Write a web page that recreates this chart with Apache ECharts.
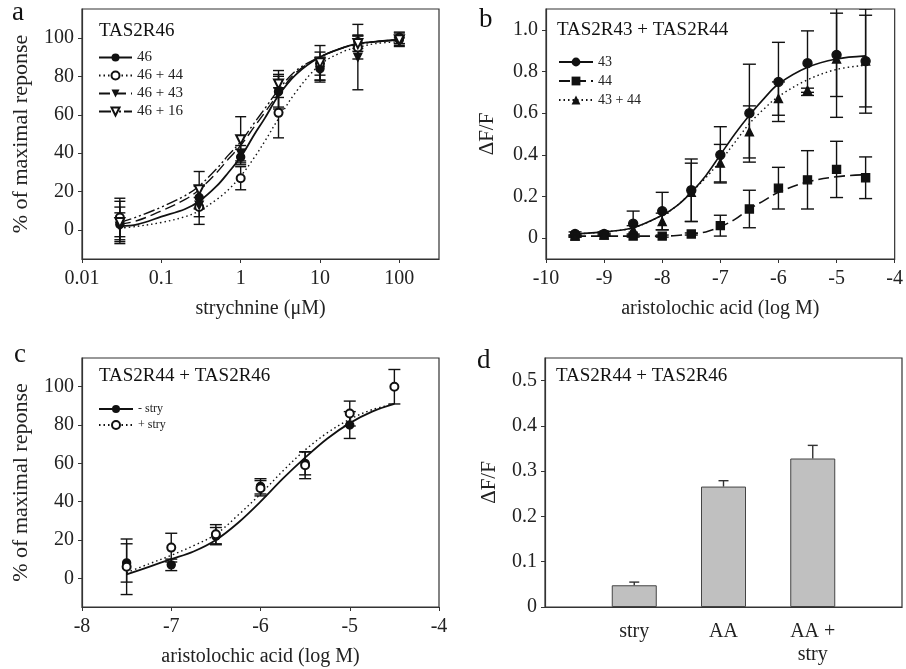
<!DOCTYPE html>
<html>
<head>
<meta charset="utf-8">
<script src="https://cdn.jsdelivr.net/npm/echarts@6/dist/echarts.min.js"></script>
<style>
html,body{margin:0;padding:0;background:#fff;}
#chart{width:906px;height:669px;}
</style>
</head>
<body>
<div id="chart"></div>
<script>
// ---------- Panel a: TAS2R46, strychnine (µM) ----------
const aConc = [0.03, 0.3, 1, 3, 10, 30, 100];
const a46 = [3, 17, 38, 72, 84, 98, 99];
const a46Err = [9, 6, 4, 8, 6, 3.5, 3.5];
const a46p44 = [6.6, 12, 27, 61, 86.6, 95, 100];
const a46p44Err = [10, 5, 6, 13, 6, 6, 3];
const a46p43 = [2, 13, 40, 72, 83, 90, 98];
const a46p43Err = [7, 10, 4, 9, 6, 17, 2];
const a46p16 = [4, 21, 47, 76, 87, 97, 99];
const a46p16Err = [11, 9.5, 12, 7, 9, 4, 2];
// fitted curves
const aCurveX = [0.03, 0.05, 0.1, 0.2, 0.3, 0.5, 0.7, 1, 1.5, 2, 3, 5, 10, 20, 30, 50, 100];
const aCurve46 = [2, 3, 7, 11, 15, 23, 30, 38, 50, 58, 70, 81, 90, 95, 97, 98, 99];
const aCurve46p44 = [1, 2, 4, 7, 10, 16, 21, 28, 38, 46, 58, 72, 86, 93, 95, 97, 98];
const aCurve46p43 = [3, 5, 10, 16, 21, 30, 37, 44, 54, 61, 71, 82, 90, 95, 97, 98, 99];
const aCurve46p16 = [4, 7, 12, 18, 23, 32, 39, 46, 56, 63, 73, 83, 90, 95, 96.5, 98, 99];
const aXTicks = [0.01, 0.1, 1, 10, 100];
const pctTicks = [0, 20, 40, 60, 80, 100];

// ---------- Panel b: TAS2R43 + TAS2R44, aristolochic acid (log M) ----------
const bLogM = [-9.5, -9, -8.5, -8, -7.5, -7, -6.5, -6, -5.5, -5, -4.5];
const b43 = [0.02, 0.02, 0.07, 0.13, 0.23, 0.40, 0.60, 0.75, 0.84, 0.88, 0.85];
const b43Err = [0.01, 0.01, 0.06, 0.09, 0.15, 0.135, 0.235, 0.19, 0.155, 0.2, 0.25];
const b44 = [0.01, 0.015, 0.01, 0.01, 0.02, 0.06, 0.14, 0.24, 0.28, 0.33, 0.29];
const b44Err = [0.005, 0.005, 0.005, 0.005, 0.005, 0.05, 0.09, 0.10, 0.14, 0.135, 0.10];
const b43p44 = [0.01, 0.015, 0.04, 0.08, 0.22, 0.36, 0.51, 0.67, 0.71, 0.86, 0.85];
const b43p44Err = [0.005, 0.005, 0.02, 0.04, 0.14, 0.09, 0.125, 0.08, 0.01, 0.28, 0.22];
const bCurveX = [-9.5, -9, -8.5, -8, -7.75, -7.5, -7.25, -7, -6.75, -6.5, -6.25, -6, -5.5, -5, -4.5];
const bCurve43 = [0.02, 0.03, 0.05, 0.11, 0.155, 0.22, 0.30, 0.40, 0.50, 0.59, 0.67, 0.74, 0.82, 0.86, 0.875];
const bCurve44 = [0.01, 0.01, 0.01, 0.01, 0.013, 0.02, 0.03, 0.055, 0.09, 0.14, 0.18, 0.22, 0.27, 0.295, 0.305];
const bCurve43p44 = [0.02, 0.03, 0.05, 0.11, 0.155, 0.22, 0.29, 0.37, 0.46, 0.55, 0.62, 0.68, 0.76, 0.81, 0.83];
const bYTicks = [0, 0.2, 0.4, 0.6, 0.8, 1.0];

// ---------- Panel c: TAS2R44 + TAS2R46 ----------
const cLogM = [-7.5, -7, -6.5, -6, -5.5, -5, -4.5];
const cMinusStry = [8, 7, 22, 48, 60, 80, null];
const cMinusStryErr = [10, 3, 4.5, 4, 6, 7, null];
const cPlusStry = [6, 16, 23, 47, 59, 86, 100];
const cPlusStryErr = [14.5, 7.5, 5, 4, 7, 6.5, 9];
const cCurveX = [-7.5, -7.25, -7, -6.75, -6.5, -6.25, -6, -5.75, -5.5, -5.25, -5, -4.75, -4.5];
const cCurveMinus = [2, 6, 10, 14, 20, 29, 40, 52, 63, 73, 81, 87, 91];
const cCurvePlus = [3, 7.5, 12, 17, 23, 33, 44, 56, 67, 76, 83, 88, 91];

// ---------- Panel d: bars ----------
const dCats = ['stry', 'AA', 'AA +\nstry'];
const dVals = [0.048, 0.266, 0.328];
const dErr = [0.007, 0.013, 0.029];
const dYTicks = [0, 0.1, 0.2, 0.3, 0.4, 0.5];

// ---------- helpers ----------
const SERIF = 'Liberation Serif';
const INK = '#111';
const AX = '#333';
function pts(xs, ys) { return xs.map((x, i) => ys[i] == null ? null : [x, ys[i]]).filter(Boolean); }
function errs(xs, ys, es) { return xs.map((x, i) => ys[i] == null || es[i] == null ? null : [x, ys[i] - es[i], ys[i] + es[i]]).filter(Boolean); }
function errRender(capW) {
  return function (params, api) {
    const x = api.value(0), lo = api.value(1), hi = api.value(2);
    const p1 = api.coord([x, lo]), p2 = api.coord([x, hi]);
    const h = capW / 2;
    const st = { stroke: INK, lineWidth: 1.4 };
    return { type: 'group', children: [
      { type: 'line', shape: { x1: p1[0], y1: p1[1], x2: p2[0], y2: p2[1] }, style: st },
      { type: 'line', shape: { x1: p1[0] - h, y1: p1[1], x2: p1[0] + h, y2: p1[1] }, style: st },
      { type: 'line', shape: { x1: p2[0] - h, y1: p2[1], x2: p2[0] + h, y2: p2[1] }, style: st }
    ] };
  };
}
function errSeries(idx, data, capW) {
  return { type: 'custom', xAxisIndex: idx, yAxisIndex: idx, data: data, renderItem: errRender(capW || 10),
    encode: { x: 0, y: [1, 2] }, clip: true, silent: true, z: 2 };
}
function curve(idx, name, xs, ys, sym, rot, dash, width) {
  return { type: 'line', name: name, xAxisIndex: idx, yAxisIndex: idx, data: pts(xs, ys), smooth: 0.35,
    showSymbol: false, symbol: sym, symbolRotate: rot || 0, symbolSize: 8,
    itemStyle: { color: INK, borderColor: INK, opacity: 1 },
    lineStyle: { color: INK, width: width || 1.5, type: dash }, z: 3, silent: true };
}
function marks(idx, xs, ys, sym, rot, size) {
  return { type: 'scatter', xAxisIndex: idx, yAxisIndex: idx, data: pts(xs, ys), symbol: sym, symbolRotate: rot || 0,
    symbolSize: size || 8, itemStyle: { color: INK, borderColor: INK, borderWidth: 1.4, opacity: 1 }, z: 4, silent: true };
}
const tickLabel = { fontFamily: SERIF, fontSize: 20, color: '#222' };
const nameStyle = { fontFamily: SERIF, fontSize: 20, color: '#222' };
const yNameStyle = { fontFamily: SERIF, fontSize: 22, color: '#222' };
function axLine() { return { show: true, onZero: false, lineStyle: { color: AX, width: 1.2 } }; }

const chart = echarts.init(document.getElementById('chart'), null, { renderer: 'canvas' });

const DOT = [1.5, 3];
const DASH = [11, 5];
const DASHDOT = [12, 3, 2, 3, 2, 3];
const letter = { fontFamily: SERIF, fontSize: 27, fontWeight: 'normal', color: '#111' };
const inTitle = { fontFamily: SERIF, fontSize: 19, fontWeight: 'normal', color: '#111' };

const option = {
  animation: false,
  backgroundColor: '#fff',
  title: [
    { text: 'a', left: 12, top: -1, padding: 0, textStyle: letter },
    { text: 'b', left: 479, top: 6, padding: 0, textStyle: letter },
    { text: 'c', left: 14, top: 341, padding: 0, textStyle: letter },
    { text: 'd', left: 477, top: 347, padding: 0, textStyle: letter },
    { text: 'TAS2R46', left: 99, top: 22, padding: 0, textStyle: inTitle },
    { text: 'TAS2R43 + TAS2R44', left: 557, top: 21, padding: 0, textStyle: inTitle },
    { text: 'TAS2R44 + TAS2R46', left: 99, top: 367, padding: 0, textStyle: inTitle },
    { text: 'TAS2R44 + TAS2R46', left: 556, top: 367, padding: 0, textStyle: inTitle }
  ],
  legend: [
    { data: ['46', '46 + 44', '46 + 43', '46 + 16'], orient: 'vertical', left: 98, top: 50, itemWidth: 33, itemHeight: 10, itemGap: 3,
      textStyle: { fontFamily: SERIF, fontSize: 15, color: '#222' }, selectedMode: false, padding: 0 },
    { data: ['43', '44', '43 + 44'], orient: 'vertical', left: 558, top: 55, itemWidth: 34, itemHeight: 11, itemGap: 5,
      textStyle: { fontFamily: SERIF, fontSize: 14, color: '#222' }, selectedMode: false, padding: 0 },
    { data: ['- stry', '+ stry'], orient: 'vertical', left: 98, top: 403, itemWidth: 34, itemHeight: 10, itemGap: 4,
      textStyle: { fontFamily: SERIF, fontSize: 12, color: '#222' }, selectedMode: false, padding: 0 }
  ],
  grid: [
    { left: 82, width: 357, top: 9, height: 250, show: true, borderColor: AX, borderWidth: 1.2, containLabel: false },
    { left: 546, width: 356, top: 9, height: 250, show: true, borderColor: AX, borderWidth: 1.2, containLabel: false },
    { left: 82, width: 357, top: 358, height: 249, show: true, borderColor: AX, borderWidth: 1.2, containLabel: false },
    { left: 545, width: 357, top: 358, height: 249, show: true, borderColor: AX, borderWidth: 1.2, containLabel: false }
  ],
  xAxis: [
    { gridIndex: 0, type: 'log', logBase: 10, min: 0.01, max: 316.2, axisLine: axLine(),
      axisTick: { show: true, length: 4, inside: false, customValues: aXTicks, lineStyle: { color: AX } },
      axisLabel: { ...tickLabel, margin: 10, customValues: aXTicks, formatter: v => String(+v.toPrecision(3)) },
      splitLine: { show: false }, minorTick: { show: false },
      name: 'strychnine (\u03bcM)', nameLocation: 'middle', nameGap: 40, nameTextStyle: nameStyle },
    { gridIndex: 1, type: 'value', min: -10, max: -4, interval: 1, axisLine: axLine(),
      axisTick: { show: true, length: 4, lineStyle: { color: AX } },
      axisLabel: { ...tickLabel, margin: 10, showMaxLabel: true, showMinLabel: true },
      splitLine: { show: false },
      name: 'aristolochic acid (log M)', nameLocation: 'middle', nameGap: 40, nameTextStyle: nameStyle },
    { gridIndex: 2, type: 'value', min: -8, max: -4, interval: 1, axisLine: axLine(),
      axisTick: { show: true, length: 4, lineStyle: { color: AX } },
      axisLabel: { ...tickLabel, margin: 10, showMaxLabel: true, showMinLabel: true },
      splitLine: { show: false },
      name: 'aristolochic acid (log M)', nameLocation: 'middle', nameGap: 40, nameTextStyle: nameStyle },
    { gridIndex: 3, type: 'category', data: [''].concat(dCats, ['']), boundaryGap: false, axisLine: axLine(),
      axisTick: { show: false }, axisLabel: { ...tickLabel, margin: 13, lineHeight: 23, interval: 0 },
      splitLine: { show: false } }
  ],
  yAxis: [
    { gridIndex: 0, type: 'value', min: -15, max: 115, axisLine: axLine(),
      axisTick: { show: true, length: 4, customValues: pctTicks, lineStyle: { color: AX } },
      axisLabel: { ...tickLabel, margin: 8, customValues: pctTicks },
      splitLine: { show: false },
      name: '% of maximal reponse', nameLocation: 'middle', nameGap: 50, nameTextStyle: yNameStyle },
    { gridIndex: 1, type: 'value', min: -0.1, max: 1.1, axisLine: axLine(),
      axisTick: { show: true, length: 4, customValues: bYTicks, lineStyle: { color: AX } },
      axisLabel: { ...tickLabel, margin: 8, customValues: bYTicks, formatter: v => (Math.abs(v) < 1e-9 ? '0' : v.toFixed(1)) },
      splitLine: { show: false },
      name: '\u0394F/F', nameLocation: 'middle', nameGap: 48, nameTextStyle: { ...yNameStyle, fontSize: 21 } },
    { gridIndex: 2, type: 'value', min: -15, max: 115, axisLine: axLine(),
      axisTick: { show: true, length: 4, customValues: pctTicks, lineStyle: { color: AX } },
      axisLabel: { ...tickLabel, margin: 8, customValues: pctTicks },
      splitLine: { show: false },
      name: '% of maximal reponse', nameLocation: 'middle', nameGap: 50, nameTextStyle: yNameStyle },
    { gridIndex: 3, type: 'value', min: 0, max: 0.55, axisLine: axLine(),
      axisTick: { show: true, length: 4, customValues: dYTicks, lineStyle: { color: AX } },
      axisLabel: { ...tickLabel, margin: 8, customValues: dYTicks, formatter: v => (Math.abs(v) < 1e-9 ? '0' : v.toFixed(1)) },
      splitLine: { show: false },
      name: '\u0394F/F', nameLocation: 'middle', nameGap: 45, nameTextStyle: { ...yNameStyle, fontSize: 21 } }
  ],
  series: [
    // panel a
    errSeries(0, errs(aConc, a46, a46Err), 11),
    errSeries(0, errs(aConc, a46p44, a46p44Err), 11),
    errSeries(0, errs(aConc, a46p43, a46p43Err), 11),
    errSeries(0, errs(aConc, a46p16, a46p16Err), 11),
    curve(0, '46', aCurveX, aCurve46, 'circle', 0, 'solid', 1.8),
    curve(0, '46 + 44', aCurveX, aCurve46p44, 'emptyCircle', 0, DOT, 1.4),
    curve(0, '46 + 43', aCurveX, aCurve46p43, 'triangle', 180, DASH, 1.4),
    curve(0, '46 + 16', aCurveX, aCurve46p16, 'emptyTriangle', 180, DASHDOT, 1.4),
    marks(0, aConc, a46, 'circle', 0, 8),
    marks(0, aConc, a46p44, 'emptyCircle', 0, 8),
    marks(0, aConc, a46p43, 'triangle', 180, 8),
    marks(0, aConc, a46p16, 'emptyTriangle', 180, 9),
    // panel b
    errSeries(1, errs(bLogM, b43, b43Err), 13),
    errSeries(1, errs(bLogM, b44, b44Err), 13),
    errSeries(1, errs(bLogM, b43p44, b43p44Err), 13),
    curve(1, '43', bCurveX, bCurve43, 'circle', 0, 'solid', 1.6),
    curve(1, '44', bCurveX, bCurve44, 'rect', 0, DASH, 1.6),
    curve(1, '43 + 44', bCurveX, bCurve43p44, 'triangle', 0, DOT, 1.4),
    marks(1, bLogM, b43, 'circle', 0, 9),
    marks(1, bLogM, b44, 'rect', 0, 8),
    marks(1, bLogM, b43p44, 'triangle', 0, 8),
    // panel c
    errSeries(2, errs(cLogM, cMinusStry, cMinusStryErr), 12),
    errSeries(2, errs(cLogM, cPlusStry, cPlusStryErr), 12),
    curve(2, '- stry', cCurveX, cCurveMinus, 'circle', 0, 'solid', 1.8),
    curve(2, '+ stry', cCurveX, cCurvePlus, 'emptyCircle', 0, DOT, 1.4),
    marks(2, cLogM, cMinusStry, 'circle', 0, 8),
    marks(2, cLogM, cPlusStry, 'emptyCircle', 0, 8),
    // panel d
    { type: 'bar', xAxisIndex: 3, yAxisIndex: 3, data: ['-'].concat(dVals, ['-']), barWidth: 45,
      itemStyle: { color: '#c0c0c0', borderColor: '#444', borderWidth: 1 }, z: 2, silent: true },
    { type: 'custom', xAxisIndex: 3, yAxisIndex: 3, silent: true, z: 3,
      data: dCats.map((c, i) => [i + 1, dVals[i], dVals[i] + dErr[i]]),
      encode: { x: 0, y: [1, 2] },
      renderItem: function (params, api) {
        const p1 = api.coord([api.value(0), api.value(1)]), p2 = api.coord([api.value(0), api.value(2)]);
        const st = { stroke: '#333', lineWidth: 1.4 };
        return { type: 'group', children: [
          { type: 'line', shape: { x1: p1[0], y1: p1[1], x2: p2[0], y2: p2[1] }, style: st },
          { type: 'line', shape: { x1: p2[0] - 5, y1: p2[1], x2: p2[0] + 5, y2: p2[1] }, style: st }
        ] };
      } }
  ]
};
chart.setOption(option);
</script>
</body>
</html>
